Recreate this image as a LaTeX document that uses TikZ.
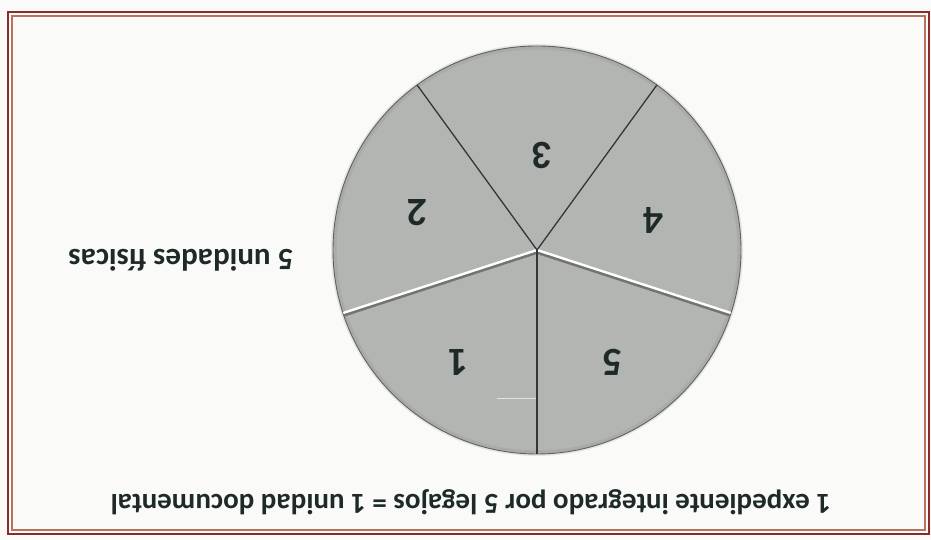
\documentclass[tikz,border=0pt]{standalone}
\usepackage{fontspec}
\setmainfont{Carlito}
\usetikzlibrary{calc}
\definecolor{bgc}{HTML}{FAFAF8}
\definecolor{frameout}{HTML}{8A2B2B}
\definecolor{framein}{HTML}{B8735A}
\definecolor{piefill}{HTML}{B3B5B2}
\definecolor{pieedge}{HTML}{5E625F}
\definecolor{spoke}{HTML}{2E3A36}
\definecolor{txt}{HTML}{1E2A28}
\tikzset{
  lbl/.style={font=\bfseries\fontsize{29}{33}\selectfont, text=txt, rotate=180, inner sep=0pt},
  lblb/.style={font=\bfseries\fontsize{31}{35}\selectfont, text=txt, rotate=180, inner sep=0pt},
  num/.style={font=\bfseries\fontsize{40}{44}\selectfont, text=txt, rotate=180, inner sep=0pt},
  thinspoke/.style={draw=spoke, line width=1.3pt},
  groovedark/.style={draw=black!55, line width=3.8pt},
  groovelight/.style={draw=white, line width=2.4pt, line cap=round},
}
\begin{document}
\begin{tikzpicture}[x=1pt,y=1pt]
\useasboundingbox (0,0) rectangle (931,540);
\fill[bgc] (0,0) rectangle (931,540);
% frame
\draw[frameout, line width=2.2pt] (8,6) rectangle (929,528);
\draw[framein, line width=1.2pt] (12,10) rectangle (925,524);
% pie
\coordinate (c) at (537,290);
\fill[black!25, opacity=0.35] (c) circle (206);
\fill[piefill] (c) circle (204);
\draw[black!40, line width=3pt, opacity=0.35] (c) circle (202);
\draw[pieedge, line width=0.9pt] (c) circle (204);
\coordinate (e1) at ($(c)+(270:204)$);
\coordinate (e2) at ($(c)+(198:203)$);
\coordinate (e3) at ($(c)+(126:204)$);
\coordinate (e4) at ($(c)+(54:204)$);
\coordinate (e5) at ($(c)+(342:203)$);
% grooves
\draw[groovedark] ($(c)+(0,-2)$) -- ($(e2)+(0,-2)$);
\draw[groovedark] ($(c)+(0,-2)$) -- ($(e5)+(0,-2)$);
\draw[groovelight] (c) -- (e2);
\draw[groovelight] (c) -- (e5);
% thin spokes
\draw[thinspoke] (c) -- (e1);
\draw[thinspoke] (c) -- (e3);
\draw[thinspoke] (c) -- (e4);
% faint artifact line
\draw[white, opacity=0.6, line width=0.8pt] (497,142) -- (536,142);
% sector labels
\node[num] (n3) at (542,385) {3};
\node[num] (n2) at (417,327) {2};
\node[num] (n4) at (653,320) {4};
\node[num] (n1) at (458,178) {1};
\node[num] (n5) at (612,178) {5};
% texts
\node[lbl] (t1) at (471,38) {1 expediente integrado por 5 legajos = 1 unidad documental};
\node[lblb] (t2) at (181,280) {5 unidades físicas};
\end{tikzpicture}
\end{document}
